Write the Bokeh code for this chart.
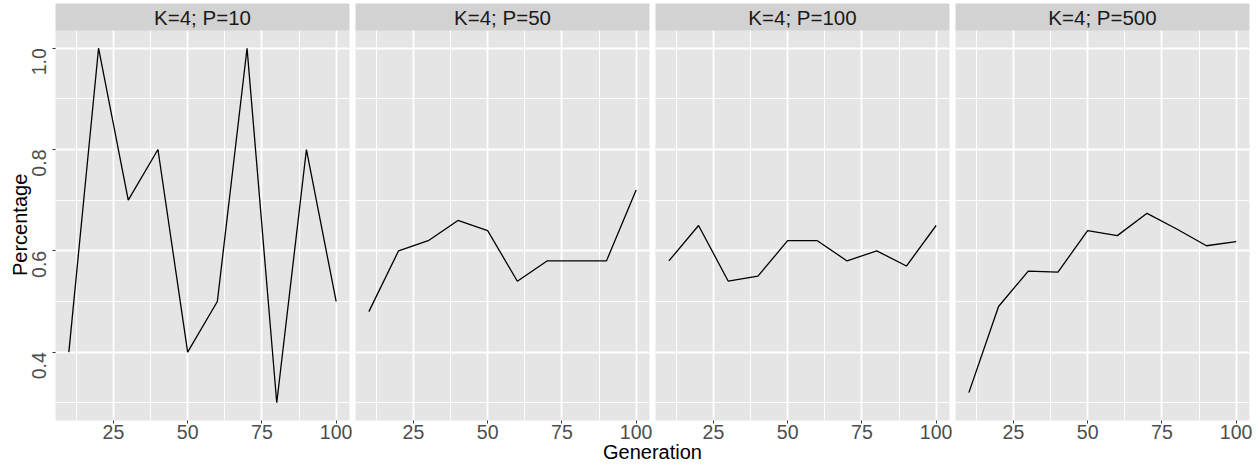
from bokeh.plotting import figure
from bokeh.models import (Range1d, FixedTicker, BoxAnnotation, Label,
                          PrintfTickFormatter, GridBox, LinearAxis)
from bokeh.embed import file_html
from bokeh.resources import INLINE

# ---------------- data ----------------
generation = [10, 20, 30, 40, 50, 60, 70, 80, 90, 100]
panel_titles = ["K=4; P=10", "K=4; P=50", "K=4; P=100", "K=4; P=500"]
pct_p10 = [0.40, 1.00, 0.70, 0.80, 0.40, 0.50, 1.00, 0.30, 0.80, 0.50]
pct_p50 = [0.48, 0.60, 0.62, 0.66, 0.64, 0.54, 0.58, 0.58, 0.58, 0.72]
pct_p100 = [0.58, 0.65, 0.54, 0.55, 0.62, 0.62, 0.58, 0.60, 0.57, 0.65]
pct_p500 = [0.32, 0.49, 0.56, 0.558, 0.64, 0.63, 0.674, 0.643, 0.61, 0.618]
series = [pct_p10, pct_p50, pct_p100, pct_p500]

x_ticks = [25, 50, 75, 100]
x_minor = [12.5, 37.5, 62.5, 87.5]
y_ticks = [0.4, 0.6, 0.8, 1.0]
y_minor = [0.3, 0.5, 0.7, 0.9]
x_title = "Generation"
y_title = "Percentage"

# ---------------- layout constants ----------------
FONT = "Liberation Sans"
W, H = 1260, 465
PANEL_W = 294
PANEL_H = 390
STRIP_H = 27
LEFT = 55
GAP = 6
TOP = 3
BOTTOM = H - TOP - PANEL_H - STRIP_H
RIGHT = W - (LEFT + 4 * PANEL_W + 3 * GAP)
NB = "\u00a0"
PANEL_BG = "#E5E5E5"
STRIP_BG = "#D2D2D2"

# ranges (ggplot style 5% expansion)
all_y = [v for s in series for v in s]
y_lo_d, y_hi_d = min(all_y), max(all_y)
ypad = 0.05 * (y_hi_d - y_lo_d)
y_lo = y_lo_d - ypad
y_hi = y_hi_d + ypad
y_top = y_hi + (y_hi - y_lo) * STRIP_H / PANEL_H
xpad = 0.05 * (max(generation) - min(generation))
x_lo = min(generation) - xpad
x_hi = max(generation) + xpad

children = []
for i, (title, vals) in enumerate(zip(panel_titles, series)):
    first = i == 0
    last = i == len(series) - 1
    p = figure(
        frame_width=PANEL_W, frame_height=PANEL_H + STRIP_H,
        x_range=Range1d(x_lo, x_hi), y_range=Range1d(y_lo, y_top),
        toolbar_location=None, output_backend="svg",
        y_axis_location="left" if first else None,
        min_border_left=LEFT if first else GAP // 2,
        min_border_right=RIGHT if last else GAP // 2,
        min_border_top=TOP, min_border_bottom=BOTTOM,
        background_fill_color=PANEL_BG, border_fill_color="white",
        outline_line_color=None,
    )
    p.line(generation, vals, line_color="black", line_width=1.3)

    # grids
    p.xgrid.ticker = FixedTicker(ticks=x_ticks, minor_ticks=x_minor)
    p.ygrid.ticker = FixedTicker(ticks=y_ticks, minor_ticks=y_minor)
    for g in (p.xgrid, p.ygrid):
        g.grid_line_color = "white"
        g.grid_line_width = 1.8
        g.minor_grid_line_color = "white"
        g.minor_grid_line_width = 0.9

    # x axis
    xa = p.xaxis[0]
    xa.ticker = FixedTicker(ticks=x_ticks, minor_ticks=[])
    xa.axis_line_color = None
    xa.major_tick_line_color = "#333333"
    xa.major_tick_out = 3
    xa.major_tick_in = 0
    xa.minor_tick_line_color = None
    xa.major_label_text_font = FONT
    xa.major_label_text_font_size = "19.5px"
    xa.major_label_text_color = "#4D4D4D"
    xa.major_label_standoff = 1

    if first:
        ya = p.yaxis[0]
        ya.ticker = FixedTicker(ticks=y_ticks, minor_ticks=[])
        # labels hang below their tick (rotated, end-justified as in the original)
        ya.formatter = PrintfTickFormatter(format="%.1f" + NB * 5)
        ya.axis_line_color = None
        ya.major_tick_line_color = "#333333"
        ya.major_tick_out = 3
        ya.major_tick_in = 0
        ya.minor_tick_line_color = None
        ya.major_label_orientation = "vertical"
        ya.major_label_text_font = FONT
        ya.major_label_text_font_size = "19.5px"
        ya.major_label_text_color = "#4D4D4D"
        ya.major_label_standoff = 2

    # facet strip
    p.add_layout(BoxAnnotation(bottom=y_hi, fill_color=STRIP_BG, fill_alpha=1.0,
                               line_color=None, level="annotation"))
    p.add_layout(Label(x=(x_lo + x_hi) / 2, y=(y_hi + y_top) / 2, text=title,
                       text_align="center", text_baseline="middle",
                       text_font=FONT, text_font_size="20.5px", text_color="#1A1A1A"))
    children.append((p, 0, i))

# shared axis titles on a transparent overlay spanning all panels
lab = figure(width=W, height=H, x_range=Range1d(0, 1), y_range=Range1d(0, 1),
             toolbar_location=None, output_backend="svg", min_border=0,
             x_axis_location=None, y_axis_location=None, outline_line_color=None,
             background_fill_color=None, border_fill_color=None)
lab.xgrid.visible = False
lab.ygrid.visible = False


def title_axis(text, standoff):
    ax = LinearAxis(ticker=FixedTicker(ticks=[]), axis_label=text)
    ax.axis_line_color = None
    ax.major_tick_line_color = None
    ax.minor_tick_line_color = None
    ax.major_tick_out = 0
    ax.minor_tick_out = 0
    ax.major_label_standoff = 0
    ax.axis_label_standoff = standoff
    ax.axis_label_text_font = FONT
    ax.axis_label_text_font_size = "20px"
    ax.axis_label_text_font_style = "normal"
    ax.axis_label_text_color = "black"
    return ax


lab.add_layout(title_axis(x_title, 22), "below")
# pad the end (top) so the title is centred on the panel area below the strips
lab.add_layout(title_axis(y_title + NB * 5, 25), "left")
children.append((lab, 0, 0, 1, 4))

layout = GridBox(children=children, spacing=0)
open("out.html", "w").write(file_html(layout, INLINE))
